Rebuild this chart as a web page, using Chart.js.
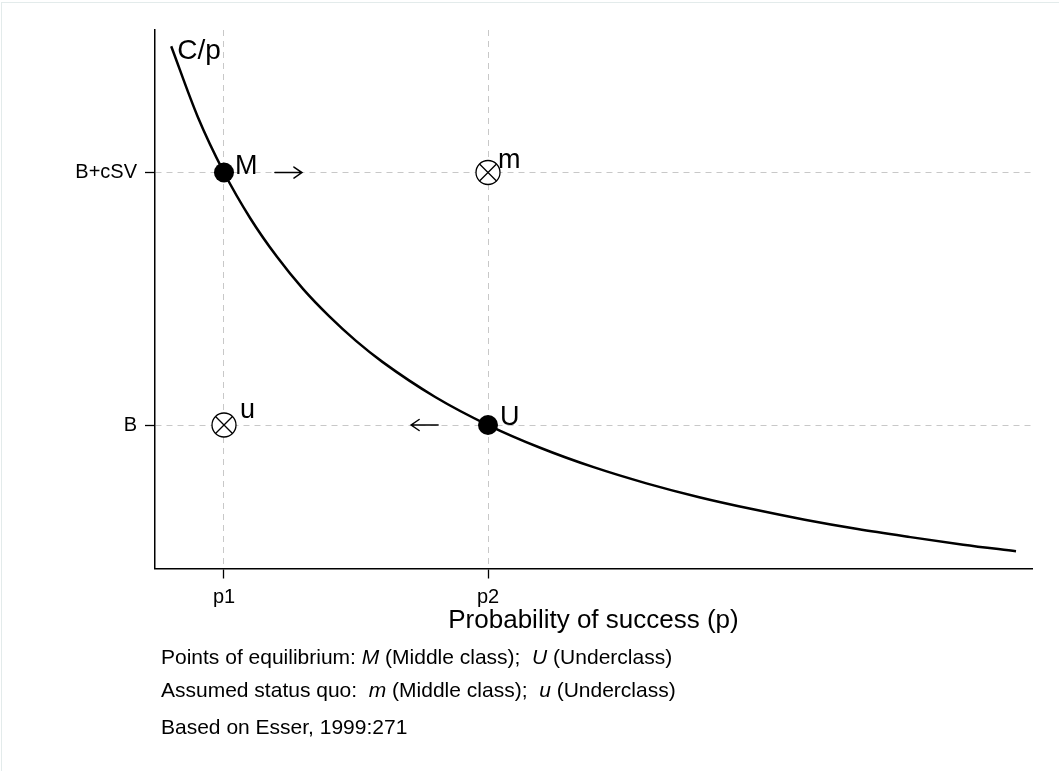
<!DOCTYPE html>
<html>
<head>
<meta charset="utf-8">
<script src="https://cdn.jsdelivr.net/npm/chart.js@4.4.1/dist/chart.umd.min.js"></script>
<style>
  html, body { margin: 0; padding: 0; background: #fff; }
  #wrap { position: relative; width: 1059px; height: 771px; overflow: hidden; }
  #frame { position: absolute; left: 1px; top: 2px; width: 1100px; height: 800px;
           border-top: 1px solid #e3ebeb; border-left: 1px solid #e3ebeb; }
  canvas { position: absolute; left: 0; top: 0; }
</style>
</head>
<body>
<div id="wrap"><div id="frame"></div><canvas id="chart" width="1059" height="771"></canvas></div>
<script>
// C/p curve
const curveP = [0.2, 0.225, 0.25, 0.275, 0.3, 0.325, 0.35, 0.375, 0.4, 0.45, 0.5, 0.55, 0.6, 0.65, 0.7, 0.75, 0.8, 0.85, 0.9, 0.95, 1.0];
const curveV = [2.5, 2.222, 2.0, 1.818, 1.667, 1.538, 1.429, 1.333, 1.25, 1.111, 1.0, 0.909, 0.833, 0.769, 0.714, 0.667, 0.625, 0.588, 0.556, 0.526, 0.5];

// points of equilibrium (filled)
const eqNames = ['M', 'U'];
const eqP = [0.25, 0.5];
const eqV = [2.0, 1.0];

// assumed status quo (crossed circles)
const sqNames = ['m', 'u'];
const sqP = [0.5, 0.25];
const sqV = [2.0, 1.0];

// arrows between them (+1 points right, -1 points left)
const arrowDir = [1, -1];
const arrowP = [0.311, 0.44];
const arrowV = [2.0, 1.0];

// axis ticks
const xTickValues = [0.25, 0.5];
const xTickLabels = ['p1', 'p2'];
const yTickValues = [1, 2];
const yTickLabels = ['B', 'B+cSV'];

// notes under the graph
const noteLines = [
    [['Points of equilibrium: ', false], ['M', true], [' (Middle class);  ', false], ['U', true], [' (Underclass)', false]],
    [['Assumed status quo:  ', false], ['m', true], [' (Middle class);  ', false], ['u', true], [' (Underclass)', false]],
    [['Based on Esser, 1999:271', false]]
];

const FONT = "'Liberation Sans', Arial, Helvetica, sans-serif";
const toXY = (ps, vs) => ps.map((p, i) => ({ x: p, y: vs[i] }));

// label offsets (pixels) from the point they belong to
const markLabels = [
    { text: 'C/p', p: curveP[0], v: curveV[0], dx: 6, dy: 13, size: 28 },
    { text: eqNames[0], p: eqP[0], v: eqV[0], dx: 11, dy: 1, size: 27 },
    { text: eqNames[1], p: eqP[1], v: eqV[1], dx: 12, dy: 0, size: 27 },
    { text: sqNames[0], p: sqP[0], v: sqV[0], dx: 10, dy: -5, size: 27 },
    { text: sqNames[1], p: sqP[1], v: sqV[1], dx: 16, dy: -7, size: 27 }
];

const labelPlugin = {
    id: 'labels',
    afterDatasetsDraw(chart) {
        const ctx = chart.ctx;
        const xs = chart.scales.x, ys = chart.scales.y;
        ctx.save();
        ctx.fillStyle = '#000';
        ctx.textBaseline = 'alphabetic';
        ctx.textAlign = 'left';
        markLabels.forEach(l => {
            ctx.font = l.size + 'px ' + FONT;
            ctx.fillText(l.text, xs.getPixelForValue(l.p) + l.dx, ys.getPixelForValue(l.v) + l.dy);
        });
        // arrows
        ctx.strokeStyle = '#000';
        ctx.lineWidth = 1.5;
        ctx.lineCap = 'round';
        arrowDir.forEach((d, i) => {
            const cx = xs.getPixelForValue(arrowP[i]);
            const cy = ys.getPixelForValue(arrowV[i]);
            const tip = cx + d * 13.5;
            ctx.beginPath();
            ctx.moveTo(cx - d * 13.5, cy);
            ctx.lineTo(tip, cy);
            ctx.moveTo(tip - d * 8, cy - 5.5);
            ctx.lineTo(tip, cy);
            ctx.lineTo(tip - d * 8, cy + 5.5);
            ctx.stroke();
        });
        ctx.restore();
    },
    afterDraw(chart) {
        const ctx = chart.ctx;
        const baselines = [664, 697, 734];
        ctx.save();
        ctx.fillStyle = '#000';
        ctx.textBaseline = 'alphabetic';
        ctx.textAlign = 'left';
        noteLines.forEach((segs, li) => {
            let x = 161;
            segs.forEach(([txt, italic]) => {
                ctx.font = (italic ? 'italic ' : '') + '21px ' + FONT;
                ctx.fillText(txt, x, baselines[li]);
                x += ctx.measureText(txt).width;
            });
        });
        ctx.restore();
    }
};

const ctx = document.getElementById('chart').getContext('2d');
new Chart(ctx, {
    type: 'scatter',
    data: {
        datasets: [
            {
                label: 'Equilibrium',
                data: toXY(eqP, eqV),
                pointStyle: 'circle', pointRadius: 10,
                backgroundColor: '#000', borderColor: '#000', borderWidth: 0,
                order: 0
            },
            {
                label: 'Status quo cross',
                data: toXY(sqP, sqV),
                pointStyle: 'crossRot', pointRadius: 12,
                borderColor: '#000', borderWidth: 1.3,
                order: 1
            },
            {
                label: 'Status quo ring',
                data: toXY(sqP, sqV),
                pointStyle: 'circle', pointRadius: 12,
                backgroundColor: '#fff', borderColor: '#000', borderWidth: 1.3,
                order: 2
            },
            {
                label: 'C/p',
                data: toXY(curveP, curveV),
                showLine: true, pointRadius: 0,
                borderColor: '#000', borderWidth: 2.5,
                cubicInterpolationMode: 'monotone', fill: false,
                order: 3
            }
        ]
    },
    options: {
        responsive: false,
        animation: false,
        events: [],
        layout: { padding: { top: 30, right: 27, left: 0, bottom: 0 } },
        plugins: { legend: { display: false }, tooltip: { enabled: false } },
        scales: {
            x: {
                type: 'linear', position: 'bottom',
                min: 0.18466, max: 1.01515,
                afterBuildTicks: s => { s.ticks = xTickValues.map(v => ({ value: v })); },
                afterFit: s => { s.height = 202.5; },
                ticks: {
                    callback: v => xTickLabels[xTickValues.indexOf(v)],
                    color: '#000', font: { family: FONT, size: 20 },
                    padding: 7, maxRotation: 0, autoSkip: false
                },
                grid: { color: '#c8c8c8', lineWidth: 1, tickColor: '#000', tickLength: 10, tickWidth: 1.3 },
                border: { color: '#000', width: 1.5, dash: [6, 5] },
                title: {
                    display: true, text: 'Probability of success (p)', color: '#000',
                    font: { family: FONT, size: 26 }, padding: { top: 0, bottom: 135 }
                }
            },
            y: {
                type: 'linear', position: 'left',
                min: 0.4317, max: 2.5644,
                afterBuildTicks: s => { s.ticks = yTickValues.map(v => ({ value: v })); },
                afterFit: s => { s.width = 155; },
                ticks: {
                    callback: v => yTickLabels[yTickValues.indexOf(v)],
                    color: '#000', font: { family: FONT, size: 20 },
                    padding: 8, autoSkip: false
                },
                grid: { color: '#c8c8c8', lineWidth: 1, tickColor: '#000', tickLength: 10, tickWidth: 1.3 },
                border: { color: '#000', width: 1.5, dash: [6, 5] }
            }
        }
    },
    plugins: [labelPlugin]
});
</script>
</body>
</html>
